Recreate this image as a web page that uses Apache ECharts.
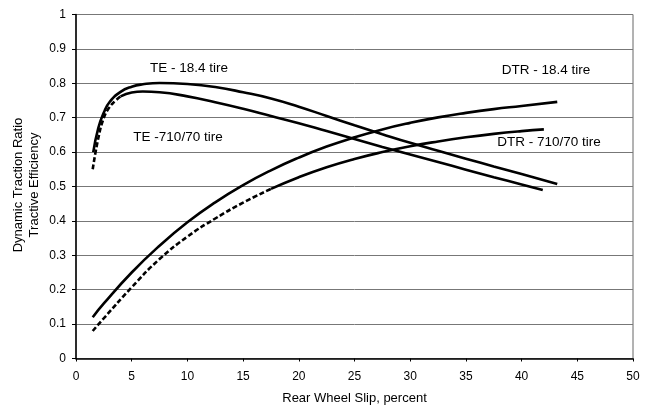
<!DOCTYPE html>
<html>
<head>
<meta charset="utf-8">
<script src="https://cdn.jsdelivr.net/npm/echarts@6/dist/echarts.min.js"></script>
<style>html,body{margin:0;padding:0;background:#fff;}#c{width:645px;height:410px;}</style>
</head>
<body>
<div id="c"></div>
<script>
// Rear wheel slip (%) and values
var teX18   = [1.55, 2.0, 2.5, 3.0, 4.0, 5.0, 6.0, 7.5, 10, 12.5, 15, 17.5, 20, 22.5, 25, 27.5, 30, 32.5, 35, 37.5, 40, 43.2];
var te18    = [0.60, 0.67, 0.715, 0.745, 0.775, 0.79, 0.797, 0.801, 0.798, 0.789, 0.774, 0.756, 0.732, 0.705, 0.678, 0.652, 0.627, 0.604, 0.581, 0.558, 0.536, 0.507];

var teX710  = [1.5, 2.0, 2.5, 3.0, 3.5, 4.0, 5.0, 6.0, 7.5, 10, 12.5, 15, 17.5, 20, 22.5, 25, 27.5, 30, 32.5, 35, 37.5, 40, 41.9];
var te710   = [0.55, 0.64, 0.70, 0.73, 0.748, 0.762, 0.773, 0.776, 0.774, 0.762, 0.745, 0.726, 0.705, 0.684, 0.661, 0.638, 0.615, 0.593, 0.571, 0.549, 0.527, 0.506, 0.49];

var dtrX18  = [1.5, 2.5, 5.0, 7.5, 10, 12.5, 15, 17.5, 20, 22.5, 25, 27.5, 30, 32.5, 35, 37.5, 40, 43.2];
var dtr18   = [0.12, 0.16, 0.25, 0.328, 0.396, 0.454, 0.504, 0.547, 0.584, 0.616, 0.643, 0.666, 0.685, 0.701, 0.714, 0.725, 0.734, 0.746];

var dtrX710 = [1.5, 2.5, 5.0, 7.5, 10, 12.5, 15, 17.5, 20, 22.5, 25, 27.5, 30, 32.5, 35, 37.5, 40, 42];
var dtr710  = [0.08, 0.117, 0.207, 0.289, 0.354, 0.407, 0.453, 0.493, 0.527, 0.556, 0.58, 0.60, 0.617, 0.631, 0.643, 0.653, 0.661, 0.666];

var xTicks = [0, 5, 10, 15, 20, 25, 30, 35, 40, 45, 50];
var yTicks = [0, 0.1, 0.2, 0.3, 0.4, 0.5, 0.6, 0.7, 0.8, 0.9, 1];

function pairs(xs, ys, from, to) {
  var out = [];
  for (var i = 0; i < xs.length; i++) {
    if (xs[i] >= from && xs[i] <= to) out.push([xs[i], ys[i]]);
  }
  return out;
}

var FONT = 'Liberation Sans, Arial, sans-serif';
var chart = echarts.init(document.getElementById('c'), null, {renderer: 'canvas'});

function line(name, data, dashed) {
  return {
    name: name, type: 'line', data: data, smooth: 0.5, symbol: 'none',
    lineStyle: {color: '#000', width: 2.6, type: dashed ? [5, 2.5] : 'solid'},
    z: dashed ? 3 : 4
  };
}

chart.setOption({
  animation: false,
  backgroundColor: '#fff',
  grid: {left: 76, right: 12, top: 14.5, bottom: 51.5, show: true, borderColor: '#666', borderWidth: 1},
  xAxis: {
    type: 'value', min: xTicks[0], max: xTicks[xTicks.length - 1], interval: 5,
    axisLine: {show: true, lineStyle: {color: '#000', width: 1.5}},
    axisTick: {show: true, inside: false, length: 3, lineStyle: {color: '#000'}},
    axisLabel: {color: '#000', fontSize: 12, fontFamily: FONT, margin: 12},
    splitLine: {show: false},
    name: 'Rear Wheel Slip, percent', nameLocation: 'middle', nameGap: 33,
    nameTextStyle: {color: '#000', fontSize: 13, fontFamily: FONT}
  },
  yAxis: {
    type: 'value', min: yTicks[0], max: yTicks[yTicks.length - 1], interval: 0.1,
    axisLine: {show: true, lineStyle: {color: '#000', width: 1.5}},
    axisTick: {show: true, inside: false, length: 4, lineStyle: {color: '#000'}},
    axisLabel: {color: '#000', fontSize: 12, fontFamily: FONT, margin: 10,
      formatter: function (v) { return String(Math.round(v * 10) / 10); }},
    splitLine: {show: true, lineStyle: {color: '#777', width: 1}}
  },
  series: [
    line('TE - 18.4 tire', pairs(teX18, te18, 0, 100), false),
    line('TE -710/70 tire (a)', pairs(teX710, te710, 0, 4.0), true),
    line('TE -710/70 tire (b)', pairs(teX710, te710, 4.0, 100), false),
    line('DTR - 18.4 tire', pairs(dtrX18, dtr18, 0, 100), false),
    line('DTR - 710/70 tire (a)', pairs(dtrX710, dtr710, 0, 17.5), true),
    line('DTR - 710/70 tire (b)', pairs(dtrX710, dtr710, 17.5, 100), false)
  ],
  graphic: [
    {type: 'text', x: 189, y: 68, style: {text: 'TE - 18.4 tire', font: '13.5px ' + FONT, fill: '#000', align: 'center', verticalAlign: 'middle'}},
    {type: 'text', x: 178, y: 137, style: {text: 'TE -710/70 tire', font: '13.5px ' + FONT, fill: '#000', align: 'center', verticalAlign: 'middle'}},
    {type: 'text', x: 546, y: 70, style: {text: 'DTR - 18.4 tire', font: '13.5px ' + FONT, fill: '#000', align: 'center', verticalAlign: 'middle'}},
    {type: 'text', x: 549, y: 142, style: {text: 'DTR - 710/70 tire', font: '13.5px ' + FONT, fill: '#000', align: 'center', verticalAlign: 'middle'}},
    {type: 'text', x: 26, y: 185, rotation: Math.PI / 2,
      style: {text: 'Dynamic Traction Ratio\nTractive Efficiency', font: '13px ' + FONT, fill: '#000', align: 'center', verticalAlign: 'middle', lineHeight: 16}}
  ]
});
</script>
</body>
</html>
